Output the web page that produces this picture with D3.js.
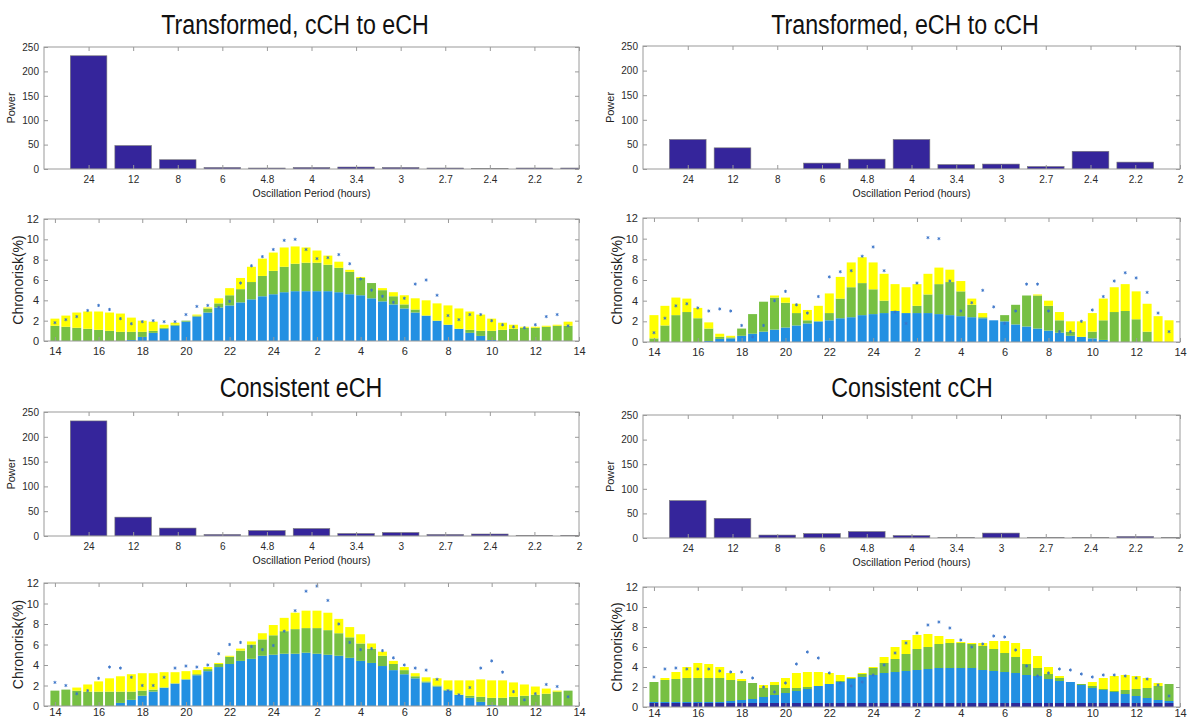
<!DOCTYPE html>
<html>
<head>
<meta charset="utf-8">
<script src="https://cdn.jsdelivr.net/npm/d3@7"></script>
<style>
body { margin: 0; background: #fff; }
text { font-family: "Liberation Sans", Arial, sans-serif; }
</style>
</head>
<body>
<svg id="chart" width="1188" height="722"></svg>
<script>
// oscillation periods (hours) for the power spectra
var periods = ["24", "12", "8", "6", "4.8", "4", "3.4", "3", "2.7", "2.4", "2.2", "2"];
// clock hour labels, one every 4 half-hour bars
var hourTicks = ["14", "16", "18", "20", "22", "24", "2", "4", "6", "8", "10", "12", "14"];

var powerCtoE = [232, 48, 19, 3, 2, 3, 4, 3, 2, 1, 2, 2];
var powerEtoC = [60, 43, 0, 12, 20, 60, 9, 10, 5, 36, 14, 0];
var powerConsE = [232, 38, 16, 3, 11, 15, 5, 7, 3, 4, 1, 1];
var powerConsC = [76, 40, 6, 9, 13, 5, 1, 10, 1, 1, 3, 1];

// chronorisk segments (stacked): blue, green, yellow + star markers
var blueCtoE = [0,0,0,0,0,0,0,0.1,0.4,0.8,1.2,1.5,1.9,2.4,2.8,3.3,3.5,3.8,4.1,4.4,4.6,4.8,4.9,4.9,4.9,4.9,4.8,4.6,4.5,4.2,3.9,3.6,3.2,2.8,2.5,2.0,1.6,1.2,0.8,0.5,0.1,0,0,0,0,0,0,0];
var greenCtoE = [1.5,1.4,1.3,1.2,1.1,1.0,0.9,0.8,0.5,0.2,0.1,0.1,0.1,0.1,0.4,0.4,1.0,1.3,1.7,2.0,2.3,2.5,2.7,2.8,2.8,2.6,2.4,2.2,1.7,1.5,1.1,0.8,0.4,0.3,0,0,0,0,0.3,0.5,0.9,1.1,1.2,1.3,1.3,1.4,1.5,1.5];
var yellowCtoE = [0.7,1.1,1.5,1.7,1.8,1.8,1.8,1.4,1.1,0.9,0.3,0.2,0,0.1,0.1,0.5,0.7,1.1,1.5,1.7,1.8,1.9,1.7,1.5,1.2,0.9,0.6,0.2,0.1,0,0.2,0.4,0.9,1.1,1.5,1.7,1.9,2.0,1.8,1.6,1.2,0.7,0.4,0.1,0.1,0.1,0.1,0.4];
var starCtoE = [1.8,2.1,2.4,3.0,3.5,3.1,2.2,1.7,1.9,2.0,1.9,1.9,2.6,3.4,3.5,3.3,3.9,5.7,7.4,8.3,9.0,9.9,10.0,9.0,8.1,8.2,8.5,7.6,6.1,5.0,4.4,3.8,4.2,5.6,6.0,4.5,2.5,2.1,2.6,2.6,2.0,1.6,1.4,1.3,1.6,2.4,2.6,1.5];

var blueEtoC = [0,0,0,0,0,0.1,0.3,0.35,0.6,0.8,1.0,1.2,1.4,1.6,1.8,2.0,2.1,2.3,2.4,2.6,2.7,2.8,3.0,2.8,2.8,2.8,2.7,2.6,2.5,2.4,2.3,2.1,2.0,1.7,1.5,1.3,1.1,0.9,0.6,0.5,0.35,0.2,0,0,0,0,0,0];
var greenEtoC = [0.35,1.6,2.6,2.9,2.3,1.2,0.2,0.1,0.7,1.9,2.9,3.1,2.4,1.2,0.3,0,0.7,1.9,2.9,3.1,2.4,1.2,0,0,0.7,1.8,2.9,3.2,2.4,1.2,0.1,0,0.6,1.9,3.0,3.2,2.4,1.2,0.4,0,0.65,1.9,2.9,3.0,2.2,1.0,0,0];
var yellowEtoC = [2.25,1.9,1.7,1.3,1.0,0.6,0.3,0.15,0,0,0,0.2,0.5,0.9,1.0,1.5,1.9,2.1,2.4,2.5,2.6,2.6,2.6,2.5,2.1,2.0,1.6,1.2,1.0,0.6,0.4,0,0,0,0,0.1,0.5,0.8,1.0,1.5,1.8,2.1,2.4,2.6,2.7,2.7,2.5,2.1];
var starEtoC = [0.9,2.3,3.5,3.7,3.3,3.0,3.2,3.0,1.6,0.5,1.6,4.0,4.9,3.6,2.8,4.4,6.3,6.8,6.9,8.3,9.2,6.9,2.9,1.8,5.7,10.1,10.0,5.9,3.0,3.8,5.0,3.4,1.8,3.0,5.6,5.6,3.0,1.0,1.0,2.0,3.1,4.4,5.9,6.7,6.2,4.8,2.8,1.0];

var blueConsE = [0,0,0,0,0,0,0.3,0.6,1.0,1.4,1.8,2.2,2.6,3.0,3.4,3.8,4.1,4.4,4.6,4.9,5.0,5.1,5.1,5.2,5.1,5.0,4.9,4.7,4.4,4.2,3.9,3.5,3.1,2.7,2.3,1.9,1.5,1.1,0.8,0.4,0.1,0,0,0,0,0,0,0];
var greenConsE = [1.5,1.6,1.5,1.4,1.4,1.4,1.1,0.8,0.5,0.2,0,0,0,0.1,0.2,0.3,0.7,1.0,1.4,1.6,1.9,2.2,2.4,2.4,2.5,2.4,2.2,2.0,1.7,1.4,1.0,0.6,0.4,0.2,0.1,0.1,0.1,0,0.2,0.5,0.7,0.8,0.9,1.0,1.1,1.2,1.4,1.5];
var yellowConsE = [0,0,0.3,0.7,1.0,1.3,1.5,1.7,1.7,1.6,1.5,1.1,0.8,0.4,0.2,0.1,0.1,0.2,0.3,0.6,1.0,1.3,1.6,1.7,1.7,1.7,1.4,1.0,0.9,0.5,0.4,0.3,0.3,0.3,0.4,0.7,0.9,1.4,1.5,1.7,1.7,1.7,1.4,1.1,0.8,0.5,0.1,0];
var starConsE = [2.3,2.0,1.2,1.5,2.7,3.8,3.7,2.8,2.0,2.0,2.8,3.7,3.9,3.8,4.0,5.1,6.0,6.2,5.8,5.5,5.9,7.3,9.3,11.2,11.7,10.3,8.0,6.2,5.5,5.6,5.4,4.7,4.0,3.7,3.5,2.6,1.5,1.1,1.8,3.7,4.4,3.3,1.4,0.6,1.2,2.1,1.9,0.9];

var navyConsC = [0.4,0.4,0.4,0.4,0.4,0.4,0.4,0.4,0.4,0.4,0.4,0.4,0.4,0.4,0.4,0.4,0.4,0.4,0.4,0.4,0.4,0.4,0.4,0.4,0.4,0.4,0.4,0.4,0.4,0.4,0.4,0.4,0.4,0.4,0.4,0.4,0.4,0.4,0.4,0.4,0.4,0.4,0.4,0.4,0.4,0.4,0.4,0.4];
var blueConsC = [0.1,0.1,0.1,0.1,0.1,0.1,0.1,0.2,0.3,0.4,0.6,0.8,1.0,1.2,1.4,1.7,1.9,2.1,2.4,2.6,2.8,3.0,3.1,3.2,3.3,3.4,3.5,3.5,3.5,3.5,3.3,3.2,3.1,3.0,2.8,2.7,2.4,2.2,2.1,1.8,1.5,1.3,1.1,0.9,0.7,0.5,0.3,0.2];
var greenConsC = [2.0,2.2,2.3,2.4,2.4,2.4,2.4,2.1,1.9,1.6,0.9,1.0,0.5,0.3,0.2,0,0,0.1,0.1,0.3,0.7,1.0,1.3,1.7,2.1,2.2,2.4,2.5,2.5,2.4,2.4,2.2,1.9,1.6,1.1,0.8,0.5,0.3,0,0.1,0.2,0.1,0.1,0.4,0.7,1.0,1.4,1.7];
var yellowConsC = [0,0.2,0.7,1.1,1.5,1.4,1.1,0.7,0.2,0,0.3,0.3,1.0,1.5,1.5,1.4,1.1,0.6,0.1,0.1,0.1,0.6,1.2,1.4,1.4,1.3,0.8,0.4,0.1,0.1,0.3,0.8,1.2,1.4,1.5,1.2,0.7,0.2,0,0,0.4,1.1,1.5,1.5,1.3,1.0,0.3,0];
var starConsC = [3.0,3.8,3.9,3.8,3.8,3.8,3.6,3.5,3.5,2.9,2.0,1.5,2.4,4.3,5.5,4.9,3.4,2.4,2.1,2.5,3.2,4.2,5.4,6.4,7.4,8.2,8.5,7.9,6.7,6.0,6.3,7.1,7.0,5.7,4.1,3.1,3.4,3.8,3.7,3.3,3.0,3.2,3.2,3.1,2.9,2.8,2.2,1.1];

var colors = { navy: "#2e2a98", blue: "#2290e2", green: "#77c043", yellow: "#ffff00" };
var barColor = "#35259b";
var starColor = "#3a74c8";
var axisColor = "#9a9a9a";

var panels = [
    { title: "Transformed, cCH to eCH", tx: 295, ty: 34, x0: 44, x1: 579, pTop: 47, pBot: 169, cTop: 219, cBot: 341, cPad: 6,
      power: powerCtoE, navy: null, blue: blueCtoE, green: greenCtoE, yellow: yellowCtoE, star: starCtoE },
    { title: "Transformed, eCH to cCH", tx: 905, ty: 34, x0: 643, x1: 1180, pTop: 46, pBot: 169, cTop: 218, cBot: 342, cPad: 6,
      power: powerEtoC, navy: null, blue: blueEtoC, green: greenEtoC, yellow: yellowEtoC, star: starEtoC },
    { title: "Consistent eCH", tx: 301, ty: 397, x0: 44, x1: 579, pTop: 412, pBot: 536, cTop: 583, cBot: 706, cPad: 2,
      power: powerConsE, navy: null, blue: blueConsE, green: greenConsE, yellow: yellowConsE, star: starConsE },
    { title: "Consistent cCH", tx: 912, ty: 397, x0: 643, x1: 1180, pTop: 415, pBot: 538, cTop: 587, cBot: 707, cPad: 2,
      power: powerConsC, navy: navyConsC, blue: blueConsC, green: greenConsC, yellow: yellowConsC, star: starConsC }
];

var svg = d3.select("#chart");

// inward MATLAB-like ticks on all four sides
function boxAxes(g, x, y, xVals, xFmt, yVals, fs, pad) {
    var r = x.range(), b = y.range();
    g.append("g")
        .attr("transform", "translate(0," + b[0] + ")")
        .call(d3.axisBottom(x).tickValues(xVals).tickFormat(xFmt).tickSizeInner(-4).tickSizeOuter(0).tickPadding(pad))
        .call(styleAxis, fs);
    g.append("g")
        .attr("transform", "translate(0," + b[1] + ")")
        .call(d3.axisTop(x).tickValues(xVals).tickFormat("").tickSizeInner(-4).tickSizeOuter(0))
        .call(styleAxis, fs);
    g.append("g")
        .attr("transform", "translate(" + r[0] + ",0)")
        .call(d3.axisLeft(y).tickValues(yVals).tickSizeInner(-4).tickSizeOuter(0).tickPadding(5))
        .call(styleAxis, fs);
    g.append("g")
        .attr("transform", "translate(" + r[1] + ",0)")
        .call(d3.axisRight(y).tickValues(yVals).tickFormat("").tickSizeInner(-4).tickSizeOuter(0))
        .call(styleAxis, fs);
    g.append("rect")
        .attr("x", r[0]).attr("y", b[1])
        .attr("width", r[1] - r[0]).attr("height", b[0] - b[1])
        .attr("fill", "none").attr("stroke", axisColor).attr("stroke-width", 1);
}

function styleAxis(sel, fs) {
    sel.select(".domain").remove();
    sel.selectAll(".tick line").attr("stroke", axisColor);
    sel.selectAll(".tick text").attr("fill", "#2a2a2a").attr("font-size", fs).attr("font-family", "Liberation Sans, Arial, sans-serif");
}

var symAst = d3.symbolAsterisk || d3.symbolCross;

panels.forEach(function (p, k) {
    var g = svg.append("g");

    // title
    g.append("text")
        .attr("transform", "translate(" + p.tx + "," + p.ty + ") scale(0.83,1)")
        .attr("text-anchor", "middle")
        .attr("font-size", 28)
        .attr("fill", "#111")
        .text(p.title);

    // ---- power spectrum ----
    var xp = d3.scaleLinear().domain([0, periods.length]).range([p.x0, p.x1]);
    var yp = d3.scaleLinear().domain([0, 250]).range([p.pBot, p.pTop]);
    var unit = xp(1) - xp(0);

    g.append("clipPath").attr("id", "clipP" + k)
        .append("rect").attr("x", p.x0).attr("y", p.pTop)
        .attr("width", p.x1 - p.x0).attr("height", p.pBot - p.pTop);

    g.append("g").attr("clip-path", "url(#clipP" + k + ")")
        .selectAll("rect")
        .data(p.power)
        .enter().append("rect")
        .attr("x", function (d, i) { return xp(i + 1) - unit * 0.41; })
        .attr("y", function (d) { return yp(d); })
        .attr("width", unit * 0.82)
        .attr("height", function (d) { return yp(0) - yp(d); })
        .attr("fill", barColor)
        .attr("stroke", "#777")
        .attr("stroke-width", 0.6);

    boxAxes(g, xp, yp, d3.range(1, periods.length + 1), function (d) { return periods[d - 1]; },
        yp.ticks(5), "10px", 7);

    g.append("text")
        .attr("transform", "translate(" + (p.x0 - 29) + "," + ((p.pTop + p.pBot) / 2) + ") rotate(-90)")
        .attr("text-anchor", "middle")
        .attr("font-size", 11)
        .attr("fill", "#222")
        .text("Power");

    g.append("text")
        .attr("x", (p.x0 + p.x1) / 2)
        .attr("y", p.pBot + 28)
        .attr("text-anchor", "middle")
        .attr("font-size", 10.5)
        .attr("fill", "#222")
        .text("Oscillation Period (hours)");

    // ---- chronorisk ----
    var rows = p.blue.map(function (b, i) {
        return { navy: p.navy ? p.navy[i] : 0, blue: b, green: p.green[i], yellow: p.yellow[i] };
    });
    var stack = d3.stack().keys(["navy", "blue", "green", "yellow"])(rows);

    var xc = d3.scaleLinear().domain([-1, rows.length]).range([p.x0, p.x1]);
    var yc = d3.scaleLinear().domain([0, 12]).range([p.cBot, p.cTop]);
    var cu = xc(1) - xc(0);

    g.append("g").selectAll("g")
        .data(stack)
        .enter().append("g")
        .attr("fill", function (s) { return colors[s.key]; })
        .selectAll("rect")
        .data(function (s) { return s; })
        .enter().append("rect")
        .attr("x", function (d, i) { return xc(i) - cu * 0.41; })
        .attr("y", function (d) { return yc(d[1]); })
        .attr("width", cu * 0.82)
        .attr("height", function (d) { return yc(d[0]) - yc(d[1]); });

    g.append("g").selectAll("path")
        .data(p.star)
        .enter().append("path")
        .attr("transform", function (d, i) { return "translate(" + xc(i) + "," + yc(d) + ")"; })
        .attr("d", d3.symbol().type(symAst).size(7))
        .attr("fill", "none")
        .attr("stroke", starColor)
        .attr("stroke-width", 0.9);

    boxAxes(g, xc, yc, hourTicks.map(function (d, i) { return i * 4; }), function (d) { return hourTicks[d / 4]; },
        yc.ticks(6), "11px", p.cPad);

    g.append("text")
        .attr("transform", "translate(" + (p.x0 - 21) + "," + ((p.cTop + p.cBot) / 2) + ") rotate(-90)")
        .attr("text-anchor", "middle")
        .attr("font-size", 14)
        .attr("fill", "#222")
        .text("Chronorisk(%)");
});
</script>
</body>
</html>
